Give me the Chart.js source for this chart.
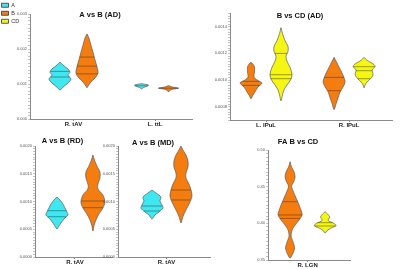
<!DOCTYPE html>
<html>
<head>
<meta charset="utf-8">
<script src="https://cdn.jsdelivr.net/npm/chart.js"></script>
<style>
  body { margin: 0; background: #fff; width: 400px; height: 269px; position: relative; overflow: hidden; }
  canvas { position: absolute; }
</style>
</head>
<body>
<script>
// groups shown in the legend
const groupNames = ['A', 'B', 'CD'];
const groupColors = ['#3fe8f1', '#f57d10', '#f6f614'];

// violin profiles: [value, half width of the density]
// A vs B (AD)
const adCats = ['R. tAV', 'L. ttL'];
const adTicks = ['0.000', '0.001', '0.002', '0.003'];
const adTavA = [[0.00163, 0], [0.00154, 3], [0.00143, 8], [0.00134, 10], [0.00126, 8], [0.00114, 11], [0.00103, 8], [0.00091, 3], [0.00083, 0]];
const adTavA_q = [0.00136, 0.0012];
const adTavB = [[0.00243, 0], [0.00231, 2], [0.00211, 4], [0.00191, 6], [0.00169, 8], [0.00149, 10], [0.00131, 11], [0.00117, 8], [0.00106, 4], [0.00094, 1], [0.00089, 0]];
const adTavB_q = [0.00177, 0.00151, 0.00129];
const adTtlA = [[0.00101, 0], [0.00097, 7], [0.00094, 6], [0.0009, 2], [0.00086, 0]];
const adTtlA_q = [0.00095];
const adTtlB = [[0.00096, 0], [0.00092, 3], [0.00088, 10], [0.00085, 4], [0.00081, 1], [0.00077, 0]];
const adTtlB_q = [0.00088];

// B vs CD (AD)
const ipuCats = ['L. IPuL', 'R. IPuL'];
const ipuTicks = ['0.0008', '0.0010', '0.0012', '0.0014'];
const ipuLB = [[0.001133, 0], [0.001119, 2], [0.001096, 3.5], [0.001059, 3.5], [0.001022, 3], [0.0010, 6], [0.000978, 11], [0.000948, 7], [0.000911, 4], [0.000881, 1.5], [0.000859, 0]];
const ipuLB_q = [0.00099, 0.00096];
const ipuLCD = [[0.001393, 0], [0.001348, 1.5], [0.001296, 4], [0.001252, 7], [0.001215, 7], [0.001178, 5], [0.001141, 6], [0.001096, 9], [0.001044, 11], [0.001007, 10], [0.000963, 6], [0.000926, 3], [0.000889, 1.5], [0.000844, 0]];
const ipuLCD_q = [0.0012, 0.00104, 0.00101];
const ipuRB = [[0.00117, 0], [0.001141, 2], [0.001096, 5], [0.001052, 8], [0.001015, 10], [0.000985, 11], [0.000948, 9], [0.000911, 6], [0.000867, 4], [0.000822, 2], [0.000778, 0]];
const ipuRB_q = [0.00102, 0.00092];
const ipuRCD = [[0.00117, 0], [0.001148, 3], [0.001126, 8], [0.001104, 11], [0.001074, 8], [0.001044, 9], [0.001015, 7], [0.000985, 3], [0.000963, 1], [0.000941, 0]];
const ipuRCD_q = [0.0011, 0.00107, 0.00101];

// A vs B (RD) and (MD)
const tavCats = ['R. tAV'];
const rdmdTicks = ['0.0000', '0.0005', '0.0010', '0.0015', '0.0020'];
const rdTavA = [[0.001081, 0], [0.001027, 3], [0.000955, 6], [0.000883, 8], [0.000811, 10], [0.000757, 11], [0.000685, 7], [0.000613, 4], [0.000559, 2], [0.000505, 0]];
const rdTavA_q = [0.000834, 0.000726];
const rdTavB = [[0.001838, 0], [0.001748, 1.5], [0.00164, 4], [0.001532, 7], [0.001423, 7], [0.001315, 5], [0.001225, 5], [0.001117, 10], [0.000991, 12], [0.000883, 10], [0.000775, 6], [0.000667, 3], [0.000559, 1], [0.000468, 0]];
const rdTavB_q = [0.001009, 0.000888];
const mdTavA = [[0.001207, 0], [0.001153, 4], [0.001081, 9], [0.001009, 8], [0.000937, 10], [0.000883, 11], [0.000811, 7], [0.000757, 3], [0.000685, 0]];
const mdTavA_q = [0.000919, 0.000829];
const mdTavB = [[0.002, 0], [0.001928, 2], [0.001838, 5], [0.00173, 7], [0.001622, 7], [0.001514, 5], [0.001423, 5], [0.001315, 8], [0.001207, 10], [0.001099, 11], [0.000991, 9], [0.000883, 6], [0.000775, 3], [0.000703, 1.5], [0.000613, 0]];
const mdTavB_q = [0.001207, 0.001027];

// FA B vs CD
const faCats = ['R. LGN'];
const faTicks = ['0.35', '0.40', '0.45', '0.50'];
const faLgnB = [[0.484, 0], [0.4768, 1.5], [0.47, 4], [0.4632, 5], [0.4564, 3.5], [0.4509, 1.5], [0.4441, 3], [0.4345, 6], [0.425, 9], [0.4155, 11.5], [0.4114, 12], [0.4045, 9], [0.3977, 5], [0.3909, 2], [0.3827, 1], [0.3745, 3], [0.3664, 4.5], [0.3595, 3], [0.3527, 0]];
const faLgnB_q = [0.4295, 0.4114, 0.4068];
const faLgnCD = [[0.4159, 0], [0.4127, 2.5], [0.4086, 4.5], [0.4039, 3], [0.4005, 8], [0.397, 11], [0.3936, 6], [0.3902, 2], [0.3868, 0]];
const faLgnCD_q = [0.4009, 0.3964];

Chart.defaults.font.family = "'Liberation Sans', Arial, sans-serif";
Chart.defaults.animation = false;
Chart.defaults.events = [];

// panel layout: [profile, quartiles, group index, side, colour index]
const panels = [
    { title: 'A vs B (AD)', left: 8, top: 10, w: 206, h: 121, padRight: 22, titleGap: -5,
      xMax: 6, slot: 27, groups: [1.61, 4.63], cats: adCats,
      yMin: 0, yMax: 0.003, yMinor: 0.0001, yLabels: adTicks,
      violins: [[adTavA, adTavA_q, 0, -1, 0], [adTavB, adTavB_q, 0, 1, 1],
                [adTtlA, adTtlA_q, 1, -1, 0], [adTtlB, adTtlB_q, 1, 1, 1]] },
    { title: 'B vs CD (AD)', left: 208, top: 10, w: 204, h: 122, padRight: 20, titleGap: -7,
      xMax: 5.4, slot: 30, groups: [1.2, 3.97], cats: ipuCats,
      yMin: 0.0007, yMax: 0.0015, yMinor: 0.00002, yLabels: ipuTicks,
      violins: [[ipuLB, ipuLB_q, 0, -1, 1], [ipuLCD, ipuLCD_q, 0, 1, 2],
                [ipuRB, ipuRB_q, 1, -1, 1], [ipuRCD, ipuRCD_q, 1, 1, 2]] },
    { title: 'A vs B (RD)', left: 13, top: 136, w: 124, h: 133, padRight: 25, titleGap: 1,
      xMax: 2.14, slot: 36, groups: [1.11], cats: tavCats,
      yMin: 0, yMax: 0.002, yMinor: 0.00005, yLabels: rdmdTicks,
      violins: [[rdTavA, rdTavA_q, 0, -1, 0], [rdTavB, rdTavB_q, 0, 1, 1]] },
    { title: 'A vs B (MD)', left: 96, top: 138, w: 132, h: 131, padRight: 18, titleGap: -1,
      xMax: 3.17, slot: 29, groups: [1.67], cats: tavCats,
      yMin: 0, yMax: 0.002, yMinor: 0.00005, yLabels: rdmdTicks,
      violins: [[mdTavA, mdTavA_q, 0, -1, 0], [mdTavB, mdTavB_q, 0, 1, 1]] },
    { title: 'FA B vs CD', left: 246, top: 137, w: 128, h: 135, padRight: 24, titleGap: 4,
      xMax: 2.34, slot: 35, groups: [1.13], cats: faCats,
      yMin: 0.35, yMax: 0.5, yMinor: 0.005, yLabels: faTicks,
      violins: [[faLgnB, faLgnB_q, 0, -1, 1], [faLgnCD, faLgnCD_q, 0, 1, 2]] }
];

function addCanvas(left, top, w, h) {
    const cv = document.createElement('canvas');
    cv.width = w;
    cv.height = h;
    cv.style.left = left + 'px';
    cv.style.top = top + 'px';
    cv.style.width = w + 'px';
    cv.style.height = h + 'px';
    document.body.appendChild(cv);
    return cv;
}

function widthAt(prof, v) {
    for (let i = 0; i < prof.length - 1; i++) {
        const [v0, w0] = prof[i];
        const [v1, w1] = prof[i + 1];
        if ((v - v0) * (v - v1) <= 0) return w0 + (w1 - w0) * (v - v0) / (v1 - v0);
    }
    return 0;
}

function violinSets(prof, quart, center, slot, color) {
    const right = prof.map(([v, w]) => ({ x: center + w / slot, y: v }));
    const left = prof.slice(0, -1).reverse().map(([v, w]) => ({ x: center - w / slot, y: v }));
    const sets = [{
        data: right.concat(left),
        showLine: true,
        fill: 'shape',
        backgroundColor: color,
        borderColor: '#5a5a5a',
        borderWidth: 0.7,
        pointRadius: 0,
        tension: 0.3,
        order: 1
    }];
    quart.forEach(q => {
        const hw = widthAt(prof, q) / slot;
        sets.push({
            data: [{ x: center - hw, y: q }, { x: center + hw, y: q }],
            showLine: true,
            fill: false,
            borderColor: 'rgba(40,40,40,0.75)',
            borderWidth: 0.6,
            pointRadius: 0,
            order: 0
        });
    });
    return sets;
}

panels.forEach(p => {
    const cv = addCanvas(p.left, p.top, p.w, p.h);
    let datasets = [];
    p.violins.forEach(([prof, quart, g, side, ci]) => {
        datasets = datasets.concat(violinSets(prof, quart, p.groups[g] + side * 0.5, p.slot, groupColors[ci]));
    });
    const majors = p.yLabels.map(Number);

    new Chart(cv, {
        type: 'scatter',
        data: { datasets },
        options: {
            responsive: false,
            devicePixelRatio: 1,
            layout: { padding: { left: 0, right: p.padRight, top: 0, bottom: 0 } },
            plugins: {
                legend: { display: false },
                tooltip: { enabled: false },
                title: {
                    display: true,
                    text: p.title,
                    color: '#111',
                    font: { size: 7.5, weight: 'bold' },
                    padding: { top: 0, bottom: p.titleGap }
                }
            },
            scales: {
                x: {
                    type: 'linear',
                    min: 0,
                    max: p.xMax,
                    afterFit: s => { s.height = 12; },
                    afterBuildTicks: s => { s.ticks = p.groups.map(v => ({ value: v })); },
                    border: { color: '#8a8a8a', width: 1 },
                    grid: { drawOnChartArea: false, tickLength: 2, color: '#8a8a8a' },
                    ticks: {
                        autoSkip: false,
                        maxRotation: 0,
                        padding: 0,
                        color: '#222',
                        font: { size: 6, weight: 'bold' },
                        callback: (v, i) => p.cats[i]
                    }
                },
                y: {
                    min: p.yMin,
                    max: p.yMax,
                    afterFit: s => { s.width = 22; },
                    afterBuildTicks: s => {
                        const n = Math.round((p.yMax - p.yMin) / p.yMinor);
                        s.ticks = [];
                        for (let i = 0; i <= n; i++) {
                            s.ticks.push({ value: Number((p.yMin + i * p.yMinor).toPrecision(8)) });
                        }
                    },
                    border: { color: '#8a8a8a', width: 1 },
                    grid: { drawOnChartArea: false, tickLength: 2, color: '#9a9a9a', lineWidth: 0.6 },
                    ticks: {
                        autoSkip: false,
                        padding: 1,
                        color: '#555',
                        font: { size: 4 },
                        callback: v => {
                            const k = majors.findIndex(m => Math.abs(m - v) < p.yMinor / 2);
                            return k >= 0 ? p.yLabels[k] : '';
                        }
                    }
                }
            }
        }
    });
});

// legend for the three groups
new Chart(addCanvas(-1, 0, 26, 64), {
    type: 'bar',
    data: {
        labels: [],
        datasets: groupNames.map((name, i) => ({
            label: name,
            data: [],
            backgroundColor: groupColors[i],
            borderColor: '#333',
            borderWidth: 0.8
        }))
    },
    options: {
        responsive: false,
        devicePixelRatio: 1,
        layout: { padding: 0 },
        scales: { x: { display: false }, y: { display: false } },
        plugins: {
            tooltip: { enabled: false },
            legend: {
                position: 'top',
                align: 'start',
                labels: { boxWidth: 7, boxHeight: 4, padding: 2.5, color: '#333', font: { size: 5.5 } }
            }
        }
    }
});
</script>
</body>
</html>
